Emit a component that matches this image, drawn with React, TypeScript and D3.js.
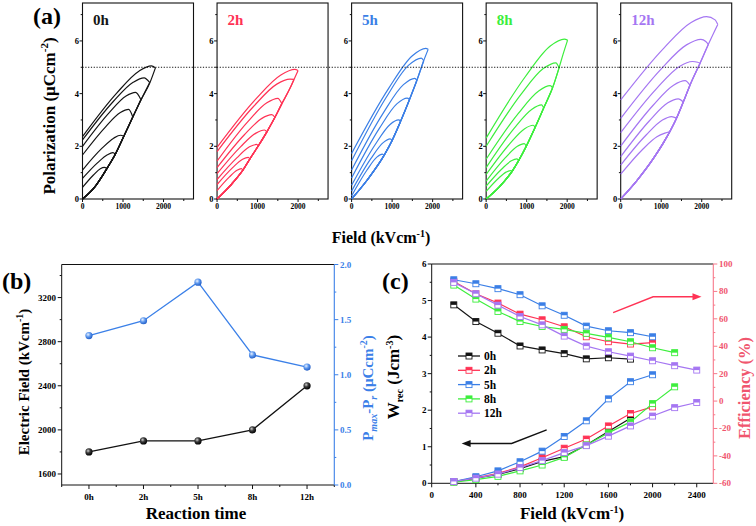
import React from 'react';
import * as d3 from 'd3';

const FONT = '"Liberation Serif","Times New Roman",Times,serif';

// ---------------- (a) unipolar P–E loops ----------------
const HYST_LABELS = ['0h', '2h', '5h', '8h', '12h'];
const HYST_COLORS = ['#141414', '#ff3355', '#3b7fe6', '#3dee3d', '#a576f2'];
const HYST_X_TICKS = [0, 1000, 2000];
const HYST_X_MINOR = [500, 1500, 2500];
const HYST_Y_TICKS = [0, 2, 4, 6];
const HYST_Y_MINOR = [1, 3, 5, 7];
const HYST_REF_LINE = 5;

// charging (lower) branches, per panel  [E kV/cm, P µC/cm²]
const base0h = [[0, 0], [300, 0.45], [600, 1.15], [810, 1.7], [1020, 2.38], [1240, 3.1], [1440, 3.75], [1660, 4.4], [1800, 4.98]];
const base2h = [[0, 0], [320, 0.5], [640, 1.1], [810, 1.52], [1020, 2.02], [1230, 2.55], [1430, 3.1], [1600, 3.62], [1800, 4.2], [1900, 4.54], [2000, 4.88]];
const base5h = [[0, 0], [400, 0.75], [800, 1.65], [1000, 2.22], [1210, 2.95], [1430, 3.78], [1610, 4.5], [1780, 5.25], [1890, 5.68]];
const base8h = [[0, 0], [320, 0.45], [640, 1.05], [800, 1.45], [990, 2.0], [1210, 2.72], [1420, 3.45], [1640, 4.22], [1800, 4.98], [1900, 5.5], [2010, 6.03]];
const base12h = [[0, 0], [400, 0.7], [800, 1.52], [1050, 2.12], [1214, 2.56], [1380, 3.07], [1545, 3.68], [1710, 4.32], [1958, 5.15], [2165, 5.87], [2396, 6.62]];

// discharging (upper) branches, per loop
const loops0h = [
  [[0, 2.37], [850, 4.03], [1400, 4.86], [1700, 5.05], [1800, 4.98]],
  [[0, 2.24], [760, 3.7], [1250, 4.43], [1520, 4.6], [1660, 4.42]],
  [[0, 2.0], [655, 3.27], [1075, 3.91], [1310, 4.05], [1440, 3.78]],
  [[0, 1.67], [570, 2.74], [935, 3.28], [1140, 3.4], [1240, 3.12]],
  [[0, 1.1], [470, 1.91], [770, 2.31], [940, 2.42], [1020, 2.38]],
  [[0, 0.78], [375, 1.38], [615, 1.68], [750, 1.76], [810, 1.7]],
  [[0, 0.44], [270, 0.91], [440, 1.15], [540, 1.2], [600, 1.15]],
];
const loops2h = [
  [[0, 1.96], [960, 3.8], [1575, 4.71], [1920, 4.92], [2000, 4.88]],
  [[0, 1.8], [900, 3.51], [1475, 4.36], [1800, 4.55], [1900, 4.54]],
  [[0, 1.44], [750, 2.92], [1230, 3.65], [1500, 3.82], [1600, 3.62]],
  [[0, 1.19], [675, 2.44], [1107, 3.06], [1350, 3.2], [1430, 3.1]],
  [[0, 0.96], [585, 1.99], [960, 2.5], [1170, 2.62], [1230, 2.55]],
  [[0, 0.74], [488, 1.56], [800, 1.98], [975, 2.07], [1020, 2.02]],
  [[0, 0.55], [385, 1.19], [630, 1.51], [770, 1.58], [810, 1.52]],
  [[0, 0.32], [300, 0.83], [492, 1.09], [600, 1.15], [640, 1.1]],
];
const loops5h = [
  [[0, 1.73], [915, 4.2], [1500, 5.44], [1830, 5.72], [1890, 5.68]],
  [[0, 1.45], [860, 3.87], [1410, 5.08], [1720, 5.35], [1780, 5.25]],
  [[0, 1.1], [780, 3.26], [1280, 4.34], [1560, 4.58], [1610, 4.5]],
  [[0, 0.8], [685, 2.68], [1123, 3.62], [1370, 3.83], [1430, 3.78]],
  [[0, 0.52], [580, 2.06], [950, 2.83], [1160, 3.0], [1210, 2.95]],
  [[0, 0.3], [475, 1.53], [780, 2.14], [950, 2.28], [1000, 2.22]],
  [[0, 0.12], [380, 1.1], [623, 1.59], [760, 1.7], [800, 1.65]],
];
const loops8h = [
  [[0, 2.31], [965, 4.64], [1583, 5.81], [1930, 6.07], [2010, 6.03]],
  [[0, 2.0], [860, 3.97], [1410, 4.95], [1720, 5.17], [1800, 4.98]],
  [[0, 1.51], [790, 3.24], [1296, 4.1], [1580, 4.3], [1640, 4.22]],
  [[0, 1.19], [685, 2.67], [1123, 3.4], [1370, 3.57], [1420, 3.45]],
  [[0, 0.93], [580, 2.09], [951, 2.67], [1160, 2.8], [1210, 2.72]],
  [[0, 0.68], [470, 1.56], [771, 2.0], [940, 2.1], [990, 2.0]],
  [[0, 0.49], [380, 1.13], [623, 1.45], [760, 1.52], [800, 1.45]],
  [[0, 0.29], [300, 0.78], [492, 1.02], [600, 1.08], [640, 1.05]],
];
const loops12h = [
  [[0, 3.76], [1060, 5.72], [1738, 6.7], [2120, 6.92], [2330, 6.8], [2396, 6.62]],
  [[0, 3.06], [990, 4.92], [1624, 5.85], [1980, 6.06], [2100, 5.98], [2165, 5.87]],
  [[0, 2.52], [885, 4.19], [1451, 5.03], [1770, 5.22], [1900, 5.19], [1958, 5.15]],
  [[0, 2.01], [795, 3.55], [1304, 4.32], [1590, 4.49], [1710, 4.32]],
  [[0, 1.61], [710, 2.97], [1164, 3.65], [1420, 3.8], [1545, 3.68]],
  [[0, 1.29], [628, 2.43], [1030, 3.0], [1256, 3.13], [1380, 3.07]],
  [[0, 0.94], [545, 1.89], [894, 2.36], [1090, 2.5], [1214, 2.56]],
];
const HYST_BASES = [base0h, base2h, base5h, base8h, base12h];
const HYST_LOOPS = [loops0h, loops2h, loops5h, loops8h, loops12h];

// ---------------- (b) ----------------
const REACTION_TIMES = ['0h', '2h', '5h', '8h', '12h'];
const BREAKDOWN_FIELD = [1800, 1900, 1900, 2000, 2400];
const DELTA_P = [1.355, 1.49, 1.84, 1.18, 1.07];
const B_LEFT_TICKS = [1600, 2000, 2400, 2800, 3200];
const B_LEFT_MINOR = [1800, 2200, 2600, 3000, 3400];
const B_RIGHT_TICKS = [0, 0.5, 1.0, 1.5, 2.0];
const B_RIGHT_MINOR = [0.25, 0.75, 1.25, 1.75];

// ---------------- (c) ----------------
const C_SERIES = ['0h', '2h', '5h', '8h', '12h'];
const C_COLORS = ['#141414', '#ff3355', '#3b7fe6', '#3dee3d', '#a576f2'];
const FIELDS_0H = [200, 400, 600, 800, 1000, 1200, 1400, 1600, 1800];
const FIELDS_2H = [200, 400, 600, 800, 1000, 1200, 1400, 1600, 1800, 2000];
const FIELDS_5H = [200, 400, 600, 800, 1000, 1200, 1400, 1600, 1800, 2000];
const FIELDS_8H = [200, 400, 600, 800, 1000, 1200, 1400, 1600, 1800, 2000, 2200];
const FIELDS_12H = [200, 400, 600, 800, 1000, 1200, 1400, 1600, 1800, 2000, 2200, 2400];
const WREC_0H = [0.04, 0.14, 0.24, 0.4, 0.6, 0.73, 1.05, 1.42, 1.78];
const WREC_2H = [0.05, 0.15, 0.27, 0.45, 0.7, 0.96, 1.21, 1.57, 1.91, 2.09];
const WREC_5H = [0.05, 0.18, 0.34, 0.59, 0.88, 1.28, 1.71, 2.31, 2.78, 2.97];
const WREC_8H = [0.03, 0.1, 0.19, 0.34, 0.5, 0.71, 1.05, 1.38, 1.68, 2.18, 2.64];
const WREC_12H = [0.05, 0.14, 0.25, 0.43, 0.62, 0.84, 1.03, 1.29, 1.57, 1.84, 2.07, 2.21];
const EFF_0H = [70.2, 58.0, 49.5, 40.2, 37.3, 34.6, 30.8, 31.6, 30.6];
const EFF_2H = [87.3, 78.3, 71.5, 63.4, 59.3, 54.2, 46.9, 43.3, 41.6, 42.6];
const EFF_5H = [88.5, 85.6, 82.0, 77.6, 69.5, 62.6, 54.7, 51.3, 49.9, 46.9];
const EFF_8H = [84.6, 74.4, 65.4, 58.0, 54.4, 52.3, 49.4, 46.5, 43.3, 38.9, 35.3];
const EFF_12H = [86.6, 78.3, 70.0, 61.7, 55.6, 47.4, 40.1, 36.0, 32.8, 29.4, 25.8, 22.6];
const C_FIELDS = [FIELDS_0H, FIELDS_2H, FIELDS_5H, FIELDS_8H, FIELDS_12H];
const C_WREC = [WREC_0H, WREC_2H, WREC_5H, WREC_8H, WREC_12H];
const C_EFF = [EFF_0H, EFF_2H, EFF_5H, EFF_8H, EFF_12H];
const C_X_TICKS = [0, 400, 800, 1200, 1600, 2000, 2400];
const C_X_MINOR = [200, 600, 1000, 1400, 1800, 2200];
const C_LEFT_TICKS = [0, 1, 2, 3, 4, 5, 6];
const C_LEFT_MINOR = [0.5, 1.5, 2.5, 3.5, 4.5, 5.5];
const C_RIGHT_TICKS = [-60, -40, -20, 0, 20, 40, 60, 80, 100];
const C_RIGHT_MINOR = [-50, -30, -10, 10, 30, 50, 70, 90];
// annotation arrows (data coordinates)
const ARROW_WREC = [[1041, 1.46], [724, 1.09], [271, 1.09]];
const ARROW_EFF = [[1643, 64.5], [2005, 76.1], [2443, 76.1]];

const RIGHT_PINK = '#f7788a';
const EFF_TEXT = '#f0566e';
const B_BLUE = '#3b80e8';

function Arrow({ pts, color }: { pts: number[][]; color: string }) {
  const n = pts.length;
  const [x1, y1] = pts[n - 2];
  const [x2, y2] = pts[n - 1];
  const ang = Math.atan2(y2 - y1, x2 - x1);
  const L = 9, Wd = 3.5;
  const bx = x2 - L * Math.cos(ang), by = y2 - L * Math.sin(ang);
  const head = [
    [x2, y2],
    [bx + Wd * Math.sin(ang), by - Wd * Math.cos(ang)],
    [bx - Wd * Math.sin(ang), by + Wd * Math.cos(ang)],
  ];
  const shaft = pts.slice(0, n - 1).concat([[bx + 2 * Math.cos(ang), by + 2 * Math.sin(ang)]]);
  return (
    <g>
      <path d={d3.line()(shaft as any) || ''} fill="none" stroke={color} strokeWidth={1.4} />
      <path d={(d3.line()(head as any) || '') + 'Z'} fill={color} />
    </g>
  );
}

export default function App() {
  // ---- (a) scales
  const PW = 111;
  const xA = d3.scaleLinear().domain([0, 2740]).range([0, PW]);
  const yA = d3.scaleLinear().domain([0, 7.44]).range([199, 3]);
  const panelX = d3.scalePoint<string>().domain(HYST_LABELS).range([82.5, 620.7]);
  const lineA = d3.line<number[]>().x(d => xA(d[0])).y(d => yA(d[1])).curve(d3.curveMonotoneX);

  // ---- (b) scales
  const xB = d3.scalePoint<string>().domain(REACTION_TIMES).range([61.7, 334.3]).padding(0.5);
  const yBL = d3.scaleLinear().domain([1500, 3500]).range([485, 264.5]);
  const yBR = d3.scaleLinear().domain([0, 2]).range([485, 264.5]);
  const stepB = xB.step();

  // ---- (c) scales
  const xC = d3.scaleLinear().domain([0, 2550]).range([431.7, 713.3]);
  const yCL = d3.scaleLinear().domain([0, 6]).range([483.3, 264]);
  const yCR = d3.scaleLinear().domain([-60, 100]).range([483.3, 264]);

  const txt = { fontFamily: FONT, fontWeight: 700 } as any;

  return (
    <svg width={756} height={526} viewBox="0 0 756 526"
      style={{ position: 'absolute', left: 0, top: 0, background: '#fff' }}>
      <defs>
        <radialGradient id="sphBlack" cx="0.38" cy="0.35" r="0.65">
          <stop offset="0" stopColor="#d0d0d0" />
          <stop offset="0.45" stopColor="#3a3a3a" />
          <stop offset="1" stopColor="#000" />
        </radialGradient>
        <radialGradient id="sphBlue" cx="0.38" cy="0.35" r="0.65">
          <stop offset="0" stopColor="#eaf2ff" />
          <stop offset="0.5" stopColor="#5d98ee" />
          <stop offset="1" stopColor="#2560c8" />
        </radialGradient>
      </defs>
      <rect x={0} y={0} width={756} height={526} fill="#fff" />

      {/* ================= (a) ================= */}
      <text x={33} y={24} fontSize={24} {...txt}>(a)</text>
      {HYST_LABELS.map((lab, i) => {
        const px = panelX(lab) as number;
        const base = HYST_BASES[i];
        const color = HYST_COLORS[i];
        return (
          <g key={lab} transform={`translate(${px},0)`}>
            <rect x={0} y={3} width={PW} height={196} fill="none" stroke="#111" strokeWidth={1.1} />
            {HYST_LOOPS[i].map((up, j) => {
              const corner = up[up.length - 1];
              const lower = base.filter(p => p[0] < corner[0] - 25).concat([corner]);
              return (
                <g key={j}>
                  <path d={lineA(lower) || ''} fill="none" stroke={color} strokeWidth={1.2} />
                  <path d={lineA(up) || ''} fill="none" stroke={color} strokeWidth={1.2} />
                </g>
              );
            })}
            {HYST_Y_TICKS.map(t => (
              <g key={t}>
                <line x1={-3} x2={0} y1={yA(t)} y2={yA(t)} stroke="#111" />
                <text x={-3.5} y={yA(t) + 3} fontSize={8.5} textAnchor="end" {...txt}>{t}</text>
              </g>
            ))}
            {HYST_Y_MINOR.map(t => (
              <line key={t} x1={-1.8} x2={0} y1={yA(t)} y2={yA(t)} stroke="#111" />
            ))}
            {HYST_X_TICKS.map(t => (
              <g key={t}>
                <line x1={xA(t)} x2={xA(t)} y1={199} y2={202} stroke="#111" />
                <text x={xA(t)} y={208.5} fontSize={7.5} textAnchor="middle" {...txt}>{t}</text>
              </g>
            ))}
            {HYST_X_MINOR.map(t => (
              <line key={t} x1={xA(t)} x2={xA(t)} y1={199} y2={201} stroke="#111" />
            ))}
            <text x={10.5} y={25} fontSize={15} fill={color} {...txt}>{lab}</text>
          </g>
        );
      })}
      <line x1={panelX('0h') as number} x2={(panelX('12h') as number) + PW}
        y1={yA(HYST_REF_LINE)} y2={yA(HYST_REF_LINE)}
        stroke="#111" strokeWidth={1} strokeDasharray="1.2,1.6" />
      <text transform="translate(55,116) rotate(-90)" fontSize={17} textAnchor="middle" {...txt}>
        Polarization (μCcm<tspan dy={-7} fontSize={11}>-2</tspan><tspan dy={7}>)</tspan>
      </text>
      <text x={381} y={243} fontSize={16} textAnchor="middle" {...txt}>
        Field (kVcm<tspan dy={-6} fontSize={10}>-1</tspan><tspan dy={6}>)</tspan>
      </text>

      {/* ================= (b) ================= */}
      <text x={2} y={289} fontSize={24} {...txt}>(b)</text>
      <line x1={61.7} x2={334.3} y1={264.5} y2={264.5} stroke="#111" strokeWidth={1} />
      <line x1={61.7} x2={334.3} y1={485} y2={485} stroke="#111" strokeWidth={1} />
      <line x1={61.7} x2={61.7} y1={264.5} y2={485} stroke="#111" strokeWidth={1} />
      <line x1={334.3} x2={334.3} y1={264.5} y2={485} stroke={B_BLUE} strokeWidth={1.1} />
      {REACTION_TIMES.map(c => {
        const x = xB(c) as number;
        return (
          <g key={c}>
            <line x1={x} x2={x} y1={485} y2={489} stroke="#111" />
            <line x1={x + stepB / 2} x2={x + stepB / 2} y1={485} y2={487} stroke="#111" />
            <text x={x} y={500} fontSize={9} textAnchor="middle" {...txt}>{c}</text>
          </g>
        );
      })}
      <line x1={61.7} x2={61.7} y1={485} y2={487} stroke="#111" />
      {B_LEFT_TICKS.map(t => (
        <g key={t}>
          <line x1={57.7} x2={61.7} y1={yBL(t)} y2={yBL(t)} stroke="#111" />
          <text x={56} y={yBL(t) + 3} fontSize={9} textAnchor="end" {...txt}>{t}</text>
        </g>
      ))}
      {B_LEFT_MINOR.map(t => (
        <line key={t} x1={59.7} x2={61.7} y1={yBL(t)} y2={yBL(t)} stroke="#111" />
      ))}
      {B_RIGHT_TICKS.map(t => (
        <g key={t}>
          <line x1={334.3} x2={338.3} y1={yBR(t)} y2={yBR(t)} stroke={B_BLUE} />
          <text x={340} y={yBR(t) + 3} fontSize={9} fill={B_BLUE} {...txt}>{t.toFixed(1)}</text>
        </g>
      ))}
      {B_RIGHT_MINOR.map(t => (
        <line key={t} x1={334.3} x2={336.3} y1={yBR(t)} y2={yBR(t)} stroke={B_BLUE} />
      ))}
      <path d={d3.line<string>().x(c => xB(c) as number).y((c, i) => yBL(BREAKDOWN_FIELD[i]))(REACTION_TIMES) || ''}
        fill="none" stroke="#111" strokeWidth={1.3} />
      <path d={d3.line<string>().x(c => xB(c) as number).y((c, i) => yBR(DELTA_P[i]))(REACTION_TIMES) || ''}
        fill="none" stroke={B_BLUE} strokeWidth={1.3} />
      {REACTION_TIMES.map((c, i) => (
        <g key={c}>
          <circle cx={xB(c) as number} cy={yBL(BREAKDOWN_FIELD[i])} r={3.6} fill="url(#sphBlack)" />
          <circle cx={xB(c) as number} cy={yBR(DELTA_P[i])} r={3.6} fill="url(#sphBlue)" />
        </g>
      ))}
      <text transform="translate(29,382) rotate(-90)" fontSize={15} textAnchor="middle" {...txt}>
        Electric Field (kVcm<tspan dy={-6} fontSize={10}>-1</tspan><tspan dy={6}>)</tspan>
      </text>
      <text transform="translate(373,388) rotate(-90)" fontSize={15} textAnchor="middle" fill={B_BLUE} {...txt}>
        P<tspan dy={4} fontSize={10} fontStyle="italic">max</tspan><tspan dy={-4}>-P</tspan><tspan dy={4} fontSize={10} fontStyle="italic">r</tspan><tspan dy={-4}> (μCcm</tspan><tspan dy={-6} fontSize={10}>-2</tspan><tspan dy={6}>)</tspan>
      </text>
      <text x={196} y={519} fontSize={17} textAnchor="middle" {...txt}>Reaction time</text>

      {/* ================= (c) ================= */}
      <text x={382} y={289} fontSize={24} {...txt}>(c)</text>
      <line x1={431.7} x2={713.3} y1={264} y2={264} stroke="#111" strokeWidth={1} />
      <line x1={431.7} x2={713.3} y1={483.3} y2={483.3} stroke="#111" strokeWidth={1} />
      <line x1={431.7} x2={431.7} y1={264} y2={483.3} stroke="#111" strokeWidth={1} />
      <line x1={713.3} x2={713.3} y1={264} y2={483.3} stroke={RIGHT_PINK} strokeWidth={1.1} />
      {C_X_TICKS.map(t => (
        <g key={t}>
          <line x1={xC(t)} x2={xC(t)} y1={483.3} y2={487.3} stroke="#111" />
          <text x={xC(t)} y={498} fontSize={9} textAnchor="middle" {...txt}>{t}</text>
        </g>
      ))}
      {C_X_MINOR.map(t => (
        <line key={t} x1={xC(t)} x2={xC(t)} y1={483.3} y2={485.3} stroke="#111" />
      ))}
      {C_LEFT_TICKS.map(t => (
        <g key={t}>
          <line x1={427.7} x2={431.7} y1={yCL(t)} y2={yCL(t)} stroke="#111" />
          <text x={426.5} y={yCL(t) + 3} fontSize={9} textAnchor="end" {...txt}>{t}</text>
        </g>
      ))}
      {C_LEFT_MINOR.map(t => (
        <line key={t} x1={429.7} x2={431.7} y1={yCL(t)} y2={yCL(t)} stroke="#111" />
      ))}
      {C_RIGHT_TICKS.map(t => (
        <g key={t}>
          <line x1={713.3} x2={717.3} y1={yCR(t)} y2={yCR(t)} stroke={RIGHT_PINK} />
          <text x={719} y={yCR(t) + 3} fontSize={9} fill={EFF_TEXT} {...txt}>{t}</text>
        </g>
      ))}
      {C_RIGHT_MINOR.map(t => (
        <line key={t} x1={713.3} x2={715.3} y1={yCR(t)} y2={yCR(t)} stroke={RIGHT_PINK} />
      ))}
      {C_SERIES.map((s, i) => {
        const color = C_COLORS[i];
        const fx = C_FIELDS[i];
        const wPts = fx.map((f, k) => [xC(f), yCL(C_WREC[i][k])]);
        const ePts = fx.map((f, k) => [xC(f), yCR(C_EFF[i][k])]);
        const lg = d3.line();
        const sq = (p: number[], k: number) => (
          <g key={k}>
            <rect x={p[0] - 3} y={p[1] - 3} width={6} height={6} fill="#fff" stroke={color} strokeWidth={0.9} />
            <rect x={p[0] - 3} y={p[1] - 3} width={6} height={3} fill={color} />
          </g>
        );
        return (
          <g key={s}>
            <path d={lg(wPts as any) || ''} fill="none" stroke={color} strokeWidth={1.2} />
            <path d={lg(ePts as any) || ''} fill="none" stroke={color} strokeWidth={1.2} />
            {wPts.map(sq)}
            {ePts.map(sq)}
          </g>
        );
      })}
      {C_SERIES.map((s, i) => {
        const y = 356 + i * 14.3;
        return (
          <g key={s}>
            <line x1={458} x2={480} y1={y} y2={y} stroke={C_COLORS[i]} strokeWidth={1.3} />
            <rect x={466} y={y - 3} width={6} height={6} fill="#fff" stroke={C_COLORS[i]} strokeWidth={0.9} />
            <rect x={466} y={y - 3} width={6} height={3} fill={C_COLORS[i]} />
            <text x={484} y={y + 4} fontSize={11.5} {...txt}>{s}</text>
          </g>
        );
      })}
      <Arrow pts={ARROW_WREC.map(p => [xC(p[0]), yCL(p[1])])} color="#111" />
      <Arrow pts={ARROW_EFF.map(p => [xC(p[0]), yCR(p[1])])} color="#ff3355" />
      <text transform="translate(399,377) rotate(-90)" fontSize={17} textAnchor="middle" {...txt}>
        W<tspan dy={4} fontSize={10}>rec</tspan><tspan dy={-4}> (Jcm</tspan><tspan dy={-6} fontSize={10}>-3</tspan><tspan dy={6}>)</tspan>
      </text>
      <text transform="translate(750,388) rotate(-90)" fontSize={16.5} textAnchor="middle" fill={EFF_TEXT} {...txt}>
        Efficiency (%)
      </text>
      <text x={572} y={519} fontSize={17} textAnchor="middle" {...txt}>
        Field (kVcm<tspan dy={-6} fontSize={10}>-1</tspan><tspan dy={6}>)</tspan>
      </text>
    </svg>
  );
}
